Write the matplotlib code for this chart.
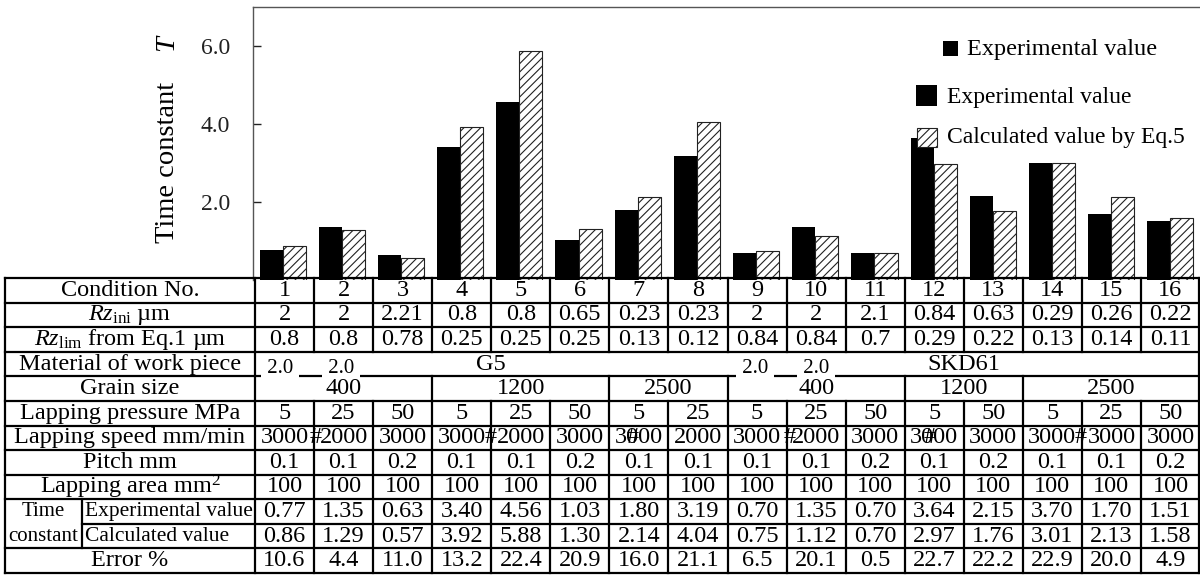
import numpy as np
import matplotlib.pyplot as plt
from matplotlib.patches import Rectangle

plt.rcParams['font.family'] = ['Liberation Serif', 'DejaVu Serif']
plt.rcParams['mathtext.fontset'] = 'custom'
plt.rcParams['mathtext.rm'] = 'Liberation Serif'
plt.rcParams['mathtext.it'] = 'Liberation Serif:italic'
plt.rcParams['hatch.linewidth'] = 0.8

# ---- data ----
cond = [str(i) for i in range(1, 17)]
rz_ini = ['2', '2', '2.21', '0.8', '0.8', '0.65', '0.23', '0.23',
          '2', '2', '2.1', '0.84', '0.63', '0.29', '0.26', '0.22']
rz_lim = ['0.8', '0.8', '0.78', '0.25', '0.25', '0.25', '0.13', '0.12',
          '0.84', '0.84', '0.7', '0.29', '0.22', '0.13', '0.14', '0.11']
materials = [('G5', 1, 8), ('SKD61', 9, 16)]
grains = [('400', 1, 3), ('1200', 4, 6), ('2500', 7, 8),
          ('400', 9, 11), ('1200', 12, 13), ('2500', 14, 16)]
pressure = ['5', '25', '50', '5', '25', '50', '5', '25',
            '5', '25', '50', '5', '50', '5', '25', '50']
speed = ['3000', '2000', '3000', '3000', '2000', '3000', '3000', '2000',
         '3000', '2000', '3000', '3000', '3000', '3000', '3000', '3000']
pitch = ['0.1', '0.1', '0.2', '0.1', '0.1', '0.2', '0.1', '0.1',
         '0.1', '0.1', '0.2', '0.1', '0.2', '0.1', '0.1', '0.2']
area = ['100'] * 16
exp_val = [0.77, 1.35, 0.63, 3.40, 4.56, 1.03, 1.80, 3.19,
           0.70, 1.35, 0.70, 3.64, 2.15, 3.70, 1.70, 1.51]
calc_val = [0.86, 1.29, 0.57, 3.92, 5.88, 1.30, 2.14, 4.04,
            0.75, 1.12, 0.70, 2.97, 1.76, 3.01, 2.13, 1.58]
error = [10.6, 4.4, 11.0, 13.2, 22.4, 20.9, 16.0, 21.1,
         6.5, 20.1, 0.5, 22.7, 22.2, 22.9, 20.0, 4.9]
# bar heights as drawn in the chart (condition 14 is drawn lower than its table value)
bar_exp = [0.77, 1.35, 0.63, 3.40, 4.56, 1.03, 1.80, 3.19,
           0.70, 1.35, 0.70, 3.64, 2.15, 3.00, 1.70, 1.51]
bar_calc = calc_val

W, H = 1200, 575
fig = plt.figure(figsize=(12, 5.75), dpi=100)

# ---- bar chart ----
ax = fig.add_axes([253 / W, 1 - 280 / H, 947 / W, 273 / H])
x = np.arange(16)
ax.bar(x - 0.195, bar_exp, width=0.39, color='black', edgecolor='none')
ax.bar(x + 0.195, bar_calc, width=0.39, facecolor='white', edgecolor='#222222',
       linewidth=0.8, hatch='////')
ax.set_xlim(-0.5, 15.5)
ax.set_ylim(0, 7)
ax.set_xticks([])
ax.set_yticks([2, 4, 6])
ax.set_yticklabels(['2.0', '4.0', '6.0'])
ax.tick_params(axis='y', direction='in', length=6, width=1, pad=16.5,
               labelsize=17, colors='#222222')
for s in ['bottom', 'right']:
    ax.spines[s].set_visible(False)
for s in ['left', 'top']:
    ax.spines[s].set_color('#555555')
    ax.spines[s].set_linewidth(1)
ax.patch.set_visible(False)

fig.text(167 / W, 1 - 162 / H, 'Time constant', rotation=90, fontsize=20.5,
         ha='center', va='center')
fig.text(167 / W, 1 - 43 / H, 'T', rotation=90, fontsize=20.5, style='italic',
         ha='center', va='center')

# ---- overlay axes in pixel units (table + legend) ----
t = fig.add_axes([0, 0, 1, 1])
t.set_xlim(0, W)
t.set_ylim(H, 0)
t.axis('off')

# legend
t.add_patch(Rectangle((943, 41), 15, 15, facecolor='black', edgecolor='none'))
t.text(967, 49, 'Experimental value', fontsize=17.5, va='center', ha='left')
t.add_patch(Rectangle((916, 85), 21, 21, facecolor='black', edgecolor='none'))
t.text(947, 97, 'Experimental value', fontsize=17, va='center', ha='left')
t.add_patch(Rectangle((917, 128), 20, 19, facecolor='white', edgecolor='#222222',
                      linewidth=0.8, hatch='////'))
t.text(947, 138, 'Calculated value by Eq.5', fontsize=17, va='center', ha='left')

# table grid
x0, xs, xh, xr = 5, 82, 255, 1199
cw = (1200 - xh) / 16
col_edges = xh + cw * np.arange(17)
col_mid = (col_edges[:-1] + col_edges[1:]) / 2
rh = (573 - 278) / 12
row_edges = 278 + rh * np.arange(13)
row_mid = (row_edges[:-1] + row_edges[1:]) / 2
lw = 1.6

for j, yy in enumerate(row_edges):
    z = 5 if j == 3 else (1 if j == 4 else 2)
    start = xs if j == 10 else x0
    t.plot([start, xr], [yy, yy], color='black', lw=lw, zorder=z,
           solid_capstyle='projecting')

for xx in [x0, xh, xr]:
    t.plot([xx, xx], [row_edges[0], row_edges[-1]], color='black', lw=lw)
t.plot([xs, xs], [row_edges[9], row_edges[11]], color='black', lw=lw)

grain_bounds = [col_edges[g[2]] for g in grains[:-1]]
for xx in col_edges[1:16]:
    t.plot([xx, xx], [row_edges[0], row_edges[3]], color='black', lw=lw)
    t.plot([xx, xx], [row_edges[5], row_edges[12]], color='black', lw=lw)
for xx in grain_bounds:
    t.plot([xx, xx], [row_edges[4], row_edges[5]], color='black', lw=lw)

fs = 17.5
row_labels = ['Condition No.', r'$Rz_{\rm ini}$ µm', r'$Rz_{\rm lim}$ from Eq.1 µm',
              'Material of work piece', 'Grain size', 'Lapping pressure MPa',
              'Lapping speed mm/min', 'Pitch mm', r'Lapping area mm$^2$',
              None, None, 'Error %']
for r, lab in enumerate(row_labels):
    if lab:
        t.text((x0 + xh) / 2, row_mid[r], lab, fontsize=fs, ha='center', va='center')
t.text((x0 + xs) / 2, row_mid[9], 'Time', fontsize=15, ha='center', va='center')
t.text((x0 + xs) / 2, row_mid[10], 'constant', fontsize=15, ha='center', va='center')
t.text(xs + 3, row_mid[9], 'Experimental value', fontsize=15.5, ha='left', va='center')
t.text(xs + 3, row_mid[10], 'Calculated value', fontsize=15.5, ha='left', va='center')

rows = {0: cond, 1: rz_ini, 2: rz_lim, 5: pressure, 6: speed, 7: pitch, 8: area,
        9: ['%.2f' % v for v in exp_val], 10: ['%.2f' % v for v in calc_val],
        11: ['%.1f' % v for v in error]}
for r, vals in rows.items():
    for c, v in enumerate(vals):
        t.text(col_mid[c], row_mid[r], v, fontsize=fs, ha='center', va='center')

for name, a, b in materials:
    t.text((col_edges[a - 1] + col_edges[b]) / 2, row_mid[3], name, fontsize=fs,
           ha='center', va='center')
for name, a, b in grains:
    t.text((col_edges[a - 1] + col_edges[b]) / 2, row_mid[4], name, fontsize=fs,
           ha='center', va='center')

# stray marks printed over the table in the original figure
hash_x = [316, 491, 633, 790, 930, 1081]
for hx in hash_x:
    t.text(hx, row_mid[6], '#', fontsize=fs, ha='center', va='center')
stray_x = [280, 341, 755, 816]
for sx in stray_x:
    t.text(sx, 378, ' 2.0 ', fontsize=15, ha='center', va='bottom', zorder=3,
           bbox=dict(facecolor='white', edgecolor='none', pad=0.5))

fig.savefig('out.png', dpi=100)
